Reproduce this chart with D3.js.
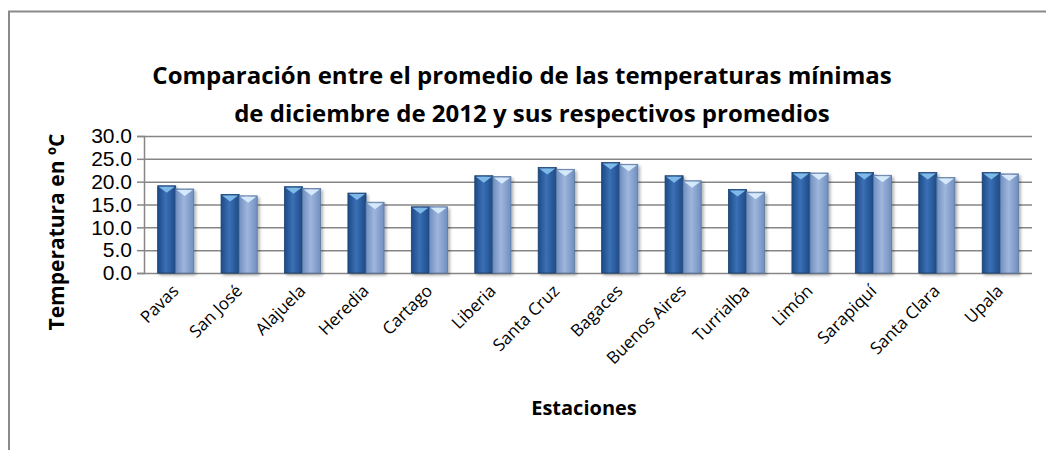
<!DOCTYPE html>
<html>
<head>
<meta charset="utf-8">
<script src="https://cdn.jsdelivr.net/npm/d3@7"></script>
<style>
  body { margin: 0; background: #fff; }
  svg { display: block; font-family: "Open Sans", sans-serif; }
</style>
</head>
<body>
<div id="chart"></div>
<script>
// data
var estaciones = ["Pavas", "San José", "Alajuela", "Heredia", "Cartago", "Liberia", "Santa Cruz",
  "Bagaces", "Buenos Aires", "Turrialba", "Limón", "Sarapiquí", "Santa Clara", "Upala"];
var dic2012 = [19.1, 17.2, 18.9, 17.5, 14.5, 21.3, 23.1, 24.2, 21.3, 18.3, 22.0, 22.0, 22.0, 22.0];
var promedio = [18.4, 16.9, 18.5, 15.5, 14.5, 21.1, 22.7, 23.8, 20.2, 17.7, 21.9, 21.4, 20.9, 21.7];
var yTicks = [0, 5, 10, 15, 20, 25, 30];
var series = ["dic2012", "promedio"];

var width = 1046, height = 450;
var margin = { top: 136, right: 14, bottom: 177, left: 144 };

var data = estaciones.map(function(d, i) {
  return { name: d, dic2012: dic2012[i], promedio: promedio[i] };
});

var svg = d3.select("#chart").append("svg")
  .attr("width", width)
  .attr("height", height);

var defs = svg.append("defs");

function barGradient(id, edge, mid) {
  var g = defs.append("linearGradient").attr("id", id)
    .attr("x1", "0%").attr("x2", "100%").attr("y1", "0%").attr("y2", "0%");
  g.append("stop").attr("offset", "0%").attr("stop-color", edge);
  g.append("stop").attr("offset", "45%").attr("stop-color", mid);
  g.append("stop").attr("offset", "100%").attr("stop-color", edge);
}
barGradient("g-dic2012", "#1d4a86", "#3b70b6");
barGradient("g-promedio", "#6f8fc0", "#9fb6dc");

var shadow = defs.append("filter").attr("id", "shadow")
  .attr("x", "-30%").attr("y", "-10%").attr("width", "160%").attr("height", "130%");
shadow.append("feDropShadow").attr("dx", 2).attr("dy", 2).attr("stdDeviation", 1.6)
  .attr("flood-color", "#000").attr("flood-opacity", 0.3);

var capColor = { dic2012: "#86c2ee", promedio: "#dcefff" };
var strokeColor = { dic2012: "#18416f", promedio: "#5b77a0" };

// outer chart border (left and top only are visible)
svg.append("path")
  .attr("d", "M9,450 V11.5 H1046")
  .attr("fill", "none")
  .attr("stroke", "#8a8a8a")
  .attr("stroke-width", 2);

var x0 = d3.scaleBand()
  .domain(estaciones)
  .range([margin.left, width - margin.right])
  .paddingInner(0.43)
  .paddingOuter(0.215);

var x1 = d3.scaleBand()
  .domain(series)
  .range([0, x0.bandwidth()]);

var y = d3.scaleLinear()
  .domain([0, 30])
  .range([height - margin.bottom, margin.top]);

// gridlines + y ticks
var yAxis = svg.append("g")
  .attr("transform", "translate(" + margin.left + ",0)")
  .call(d3.axisLeft(y).tickValues(yTicks).tickSize(7).tickFormat(d3.format(".1f")));
yAxis.select(".domain").attr("stroke", "#868686").attr("stroke-width", 1.5);
yAxis.selectAll(".tick line").attr("stroke", "#868686").attr("stroke-width", 1.5);
yAxis.selectAll(".tick text")
  .attr("x", -12)
  .attr("fill", "#000")
  .style("font-size", "21px");
yAxis.selectAll(".tick").append("line")
  .attr("x1", 0)
  .attr("x2", width - margin.right - margin.left)
  .attr("stroke", "#868686")
  .attr("stroke-width", 1.5);

// bars
var groups = svg.append("g").selectAll("g")
  .data(data)
  .join("g")
  .attr("transform", function(d) { return "translate(" + x0(d.name) + ",0)"; });

var bars = groups.selectAll("g")
  .data(function(d) {
    return series.map(function(s) { return { key: s, value: d[s] }; });
  })
  .join("g");

bars.append("rect")
  .attr("x", function(d) { return x1(d.key); })
  .attr("y", function(d) { return y(d.value); })
  .attr("width", x1.bandwidth())
  .attr("height", function(d) { return y(0) - y(d.value); })
  .attr("fill", function(d) { return "url(#g-" + d.key + ")"; })
  .attr("stroke", function(d) { return strokeColor[d.key]; })
  .attr("stroke-width", 0.8)
  .attr("filter", "url(#shadow)");

// bevel cap on top of each bar
bars.append("path")
  .attr("d", function(d) {
    var bx = x1(d.key), bw = x1.bandwidth(), ty = y(d.value);
    return "M" + (bx + 1) + "," + (ty + 1) +
      " L" + (bx + bw - 1) + "," + (ty + 1) +
      " L" + (bx + bw / 2) + "," + (ty + 7) + " Z";
  })
  .attr("fill", function(d) { return capColor[d.key]; })
  .attr("opacity", 0.9);

// category labels
svg.append("g").selectAll("text")
  .data(estaciones)
  .join("text")
  .attr("transform", function(d) {
    return "translate(" + (x0(d) + x0.bandwidth() / 2 + 4) + ",292) rotate(-45)";
  })
  .attr("text-anchor", "end")
  .style("font-size", "17px")
  .text(function(d) { return d; });

// titles
var title = svg.append("text")
  .attr("text-anchor", "middle")
  .style("font-size", "24px")
  .style("font-weight", "bold");
title.append("tspan").attr("x", 522).attr("y", 84)
  .text("Comparación entre el promedio de las temperaturas mínimas");
title.append("tspan").attr("x", 532).attr("y", 122)
  .text("de diciembre de 2012 y sus respectivos promedios");

svg.append("text")
  .attr("transform", "translate(64,232) rotate(-90)")
  .attr("text-anchor", "middle")
  .style("font-size", "21px")
  .style("font-weight", "bold")
  .text("Temperatura en ºC");

svg.append("text")
  .attr("x", 584)
  .attr("y", 415)
  .attr("text-anchor", "middle")
  .style("font-size", "20px")
  .style("font-weight", "bold")
  .text("Estaciones");
</script>
</body>
</html>
